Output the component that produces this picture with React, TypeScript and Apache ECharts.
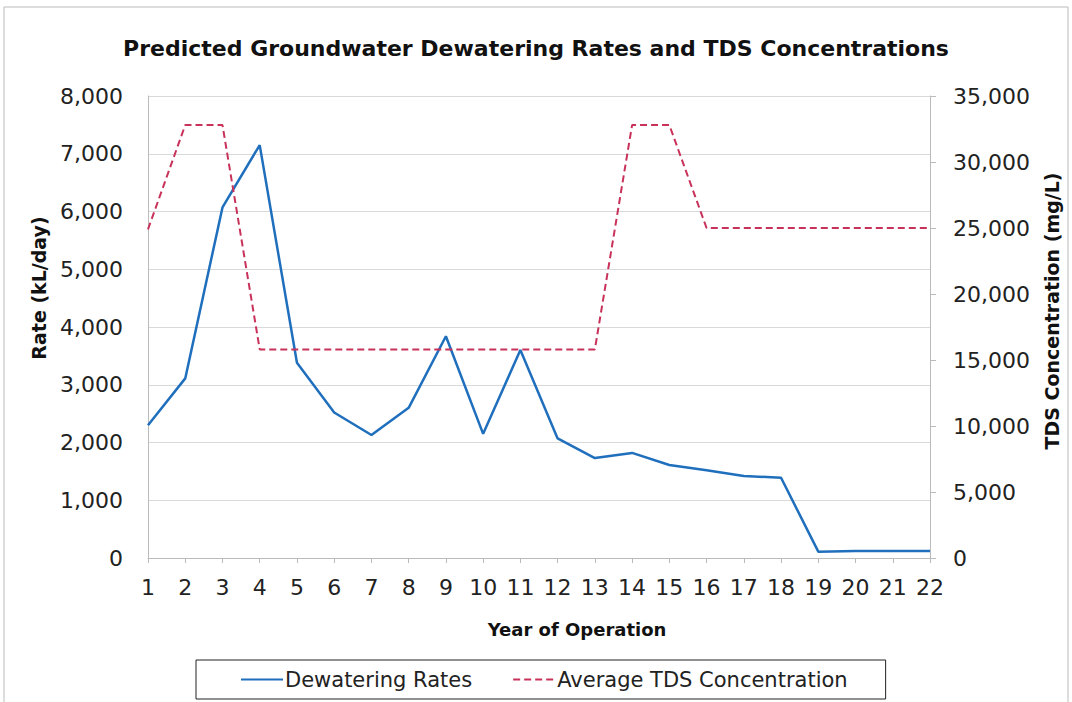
import React, { useEffect, useRef } from "react";
import * as echarts from "echarts";

const years = ["1","2","3","4","5","6","7","8","9","10","11","12","13","14","15","16","17","18","19","20","21","22"];
const dewateringRates = [2300, 3110, 6070, 7150, 3380, 2520, 2130, 2600, 3840, 2150, 3600, 2070, 1730, 1820, 1610, 1520, 1420, 1390, 110, 120, 120, 120];
const tdsConcentration = [24900, 32800, 32800, 15800, 15800, 15800, 15800, 15800, 15800, 15800, 15800, 15800, 15800, 32800, 32800, 25000, 25000, 25000, 25000, 25000, 25000, 25000];

const fmt = (v: number) => v.toLocaleString("en-US");

export default function App() {
  const ref = useRef<HTMLDivElement>(null);
  useEffect(() => {
    if (!ref.current) return;
    const chart = echarts.init(ref.current, null, { renderer: "svg" });
    const font = "DejaVu Sans, Verdana, sans-serif";
    chart.setOption({
      animation: false,
      backgroundColor: "#fff",
      textStyle: { fontFamily: font },
      title: {
        text: "Predicted Groundwater Dewatering Rates and TDS Concentrations",
        left: "center",
        top: 32,
        textStyle: { fontFamily: font, fontSize: 22, fontWeight: "bold", color: "#111" },
      },
      graphic: [
        {
          type: "rect",
          shape: { x: 4, y: 7, width: 1064, height: 700 },
          style: { fill: "none", stroke: "#bbb", lineWidth: 1 },
          silent: true,
        },
      ],
      grid: { left: 148, right: 142, top: 96, bottom: 144 },
      legend: {
        top: 660,
        left: 196,
        itemWidth: 42,
        itemHeight: 14,
        itemGap: 40,
        padding: [9, 38, 9, 44],
        borderColor: "#222",
        borderWidth: 1,
        borderRadius: 0,
        itemStyle: { opacity: 0 },
        textStyle: { fontFamily: font, fontSize: 21, color: "#222", padding: [0, 0, 0, -3] },
        data: ["Dewatering Rates", "Average TDS Concentration"],
      },
      xAxis: {
        type: "category",
        data: years,
        boundaryGap: false,
        name: "Year of Operation",
        nameLocation: "middle",
        nameGap: 62,
        nameTextStyle: { fontFamily: font, fontSize: 18, fontWeight: "bold", color: "#111", padding: [0, 0, 0, 76] },
        axisLine: { lineStyle: { color: "#bbb" } },
        axisTick: { show: true, length: 5, lineStyle: { color: "#bbb" } },
        axisLabel: { fontFamily: font, fontSize: 22, color: "#222", margin: 18 },
      },
      yAxis: [
        {
          type: "value",
          min: 0,
          max: 8000,
          interval: 1000,
          name: "Rate (kL/day)",
          nameLocation: "middle",
          nameGap: 100,
          nameTextStyle: { fontFamily: font, fontSize: 19, fontWeight: "bold", color: "#111", padding: [0, 0, 0, 78] },
          axisLine: { show: true, lineStyle: { color: "#bbb" } },
          axisTick: { show: false },
          axisLabel: { fontFamily: font, fontSize: 22, color: "#222", margin: 25, formatter: fmt },
          splitLine: { show: true, lineStyle: { color: "#d9d9d9" } },
        },
        {
          type: "value",
          min: 0,
          max: 35000,
          interval: 5000,
          name: "TDS Concentration (mg/L)",
          nameLocation: "middle",
          nameGap: 112,
          nameRotate: 90,
          nameTextStyle: { fontFamily: font, fontSize: 19, fontWeight: "bold", color: "#111", padding: [0, 0, 0, 32] },
          axisLine: { show: true, lineStyle: { color: "#bbb" } },
          axisTick: { show: true, length: 6, lineStyle: { color: "#bbb" } },
          axisLabel: { fontFamily: font, fontSize: 22, color: "#222", margin: 23, formatter: fmt },
          splitLine: { show: false },
        },
      ],
      series: [
        {
          name: "Dewatering Rates",
          type: "line",
          data: dewateringRates,
          yAxisIndex: 0,
          showSymbol: false,
          symbol: "none",
          color: "#1f6fbd",
          lineStyle: { color: "#1f6fbd", width: 2.5 },
        },
        {
          name: "Average TDS Concentration",
          type: "line",
          data: tdsConcentration,
          yAxisIndex: 1,
          showSymbol: false,
          symbol: "none",
          color: "#c8325a",
          lineStyle: { color: "#c8325a", width: 2, type: [7, 4] },
        },
      ],
    });
    return () => chart.dispose();
  }, []);
  return (
    <div
      ref={ref}
      style={{ position: "absolute", left: 0, top: 0, width: 1072, height: 702 }}
    />
  );
}
